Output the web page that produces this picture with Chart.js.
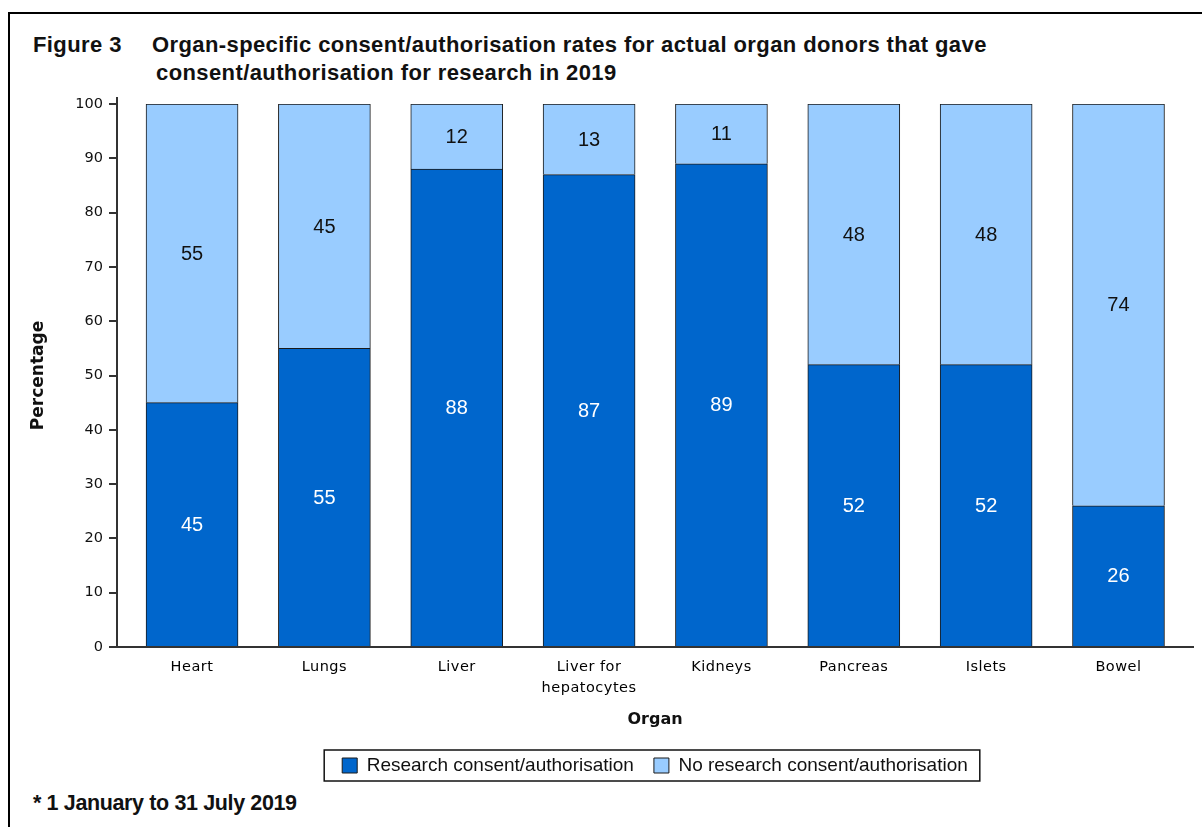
<!DOCTYPE html>
<html lang="en">
<head>
<meta charset="UTF-8">
<title>Figure 3</title>
<script src="https://cdn.jsdelivr.net/npm/chart.js@4.4.1/dist/chart.umd.min.js"></script>
<style>
   body { margin: 0; background: #fff; overflow: hidden; }
   .page { position: relative; width: 1202px; height: 827px; overflow: hidden; }
   .edgeTop { position: absolute; left: 8px; top: 12px; width: 1194px; height: 2px; background: #000; }
   .edgeLeft { position: absolute; left: 8px; top: 12px; width: 2px; height: 815px; background: #000; }
   .txt { position: absolute; font-family: "Liberation Sans", Arial, sans-serif; font-weight: bold; color: #111; white-space: nowrap; }
   .title { font-size: 22px; line-height: 24px; letter-spacing: 0.4px; }
   .note { font-size: 21.5px; line-height: 24px; letter-spacing: -0.37px; }
   canvas { position: absolute; left: 0; top: 0; }
</style>
</head>
<body>
<div class="page">
   <div class="edgeTop"></div>
   <div class="edgeLeft"></div>
   <div class="txt title" style="left:33px; top:33px;">Figure 3</div>
   <div class="txt title" style="left:152px; top:33px;">Organ-specific consent/authorisation rates for actual organ donors that gave</div>
   <div class="txt title" style="left:156px; top:61px;">consent/authorisation for research in 2019</div>
   <div class="txt note" style="left:33px; top:791px;">* 1 January to 31 July 2019</div>
   <canvas id="myChart" width="1202" height="827"></canvas>
</div>
<script>
   const organs = ['Heart', 'Lungs', 'Liver', ['Liver for', 'hepatocytes'], 'Kidneys', 'Pancreas', 'Islets', 'Bowel'];
   const research = [45, 55, 88, 87, 89, 52, 52, 26];
   const noResearch = [55, 45, 12, 13, 11, 48, 48, 74];
   const yTicks = [0, 10, 20, 30, 40, 50, 60, 70, 80, 90, 100];

   // numbers inside each bar segment, legend frame, letter spacing of organ names
   const segmentLabels = {
      id: 'segmentLabels',
      afterDatasetsDraw(chart) {
         const ctx = chart.ctx;
         ctx.save();
         ctx.font = '20px "Liberation Sans", Arial, sans-serif';
         ctx.textAlign = 'center';
         ctx.textBaseline = 'middle';
         chart.data.datasets.forEach((ds, di) => {
            ctx.fillStyle = di === 0 ? '#fff' : '#111';
            chart.getDatasetMeta(di).data.forEach((bar, i) => {
               ctx.fillText(ds.data[i].y, bar.x, (bar.y + bar.base) / 2 + 1);
            });
         });
         ctx.restore();
      },
      afterDraw(chart) {
         const ctx = chart.ctx;
         const area = chart.chartArea;
         ctx.save();
         // y axis sticks out a little above 100
         ctx.strokeStyle = '#333';
         ctx.lineWidth = 2;
         ctx.beginPath();
         ctx.moveTo(area.left, area.top - 7);
         ctx.lineTo(area.left, area.top);
         ctx.stroke();
         // box round the legend
         const boxes = chart.legend.legendHitBoxes;
         if (boxes.length) {
            const first = boxes[0], last = boxes[boxes.length - 1];
            const cy = first.top + first.height / 2;
            ctx.lineWidth = 1.5;
            ctx.strokeStyle = '#111';
            ctx.strokeRect(first.left - 18, cy - 15.5, last.left + last.width - first.left + 30, 31);
         }
         ctx.restore();
      },
      afterLayout(chart) {
         const sc = chart.scales.x;
         if (sc._spaced) return;
         const orig = sc.drawLabels;
         sc.drawLabels = function (area) {
            this.ctx.save();
            this.ctx.letterSpacing = '0.5px';
            orig.call(this, area);
            this.ctx.restore();
         };
         sc._spaced = true;
      }
   };

   const config = {
      type: 'bar',
      data: {
         datasets: [{
            label: 'Research consent/authorisation',
            data: research.map((v, i) => ({ x: i, y: v })),
            backgroundColor: '#0066CC',
            borderColor: '#1a1a1a',
            borderWidth: 1,
            barThickness: 92
         }, {
            label: 'No research consent/authorisation',
            data: noResearch.map((v, i) => ({ x: i, y: v })),
            backgroundColor: '#99CCFF',
            borderColor: '#1a1a1a',
            borderWidth: 1,
            barThickness: 92
         }]
      },
      options: {
         responsive: false,
         animation: false,
         layout: { padding: { left: 24, right: 9, top: 104, bottom: 42 } },
         plugins: {
            tooltip: { enabled: false },
            legend: {
               position: 'bottom',
               fullSize: false,
               labels: {
                  boxWidth: 15,
                  boxHeight: 15,
                  padding: 20,
                  color: '#111',
                  font: { family: '"Liberation Sans", Arial, sans-serif', size: 19 }
               }
            }
         },
         scales: {
            x: {
               type: 'linear',
               stacked: true,
               offset: false,
               min: -0.567,
               max: 7.563,
               afterBuildTicks: s => { s.ticks = organs.map((o, i) => ({ value: i })); },
               afterFit: s => { s.height = 89; },
               grid: { display: false, offset: false },
               border: { color: '#333', width: 2 },
               ticks: {
                  autoSkip: false,
                  maxRotation: 0,
                  padding: 2,
                  color: '#000',
                  font: { family: '"DejaVu Sans", Verdana, sans-serif', size: 14.5, lineHeight: 1.45 },
                  callback: v => organs[v]
               },
               title: {
                  display: true,
                  text: 'Organ',
                  color: '#111',
                  padding: { top: 4, bottom: 6.4 },
                  font: { family: '"DejaVu Sans", Verdana, sans-serif', size: 16, weight: 'bold' }
               }
            },
            y: {
               stacked: true,
               min: 0,
               max: 100,
               afterBuildTicks: s => { s.ticks = yTicks.map(v => ({ value: v })); },
               afterFit: s => { s.width = 93; },
               grid: { drawOnChartArea: false, tickLength: 8, color: '#333', lineWidth: 2 },
               border: { color: '#333', width: 2 },
               ticks: {
                  padding: 6,
                  color: '#111',
                  font: { family: '"DejaVu Sans", Verdana, sans-serif', size: 14.5 }
               },
               title: {
                  display: true,
                  text: 'Percentage',
                  color: '#111',
                  padding: { top: 4, bottom: 4 },
                  font: { family: '"DejaVu Sans", Verdana, sans-serif', size: 17, weight: 'bold' }
               }
            }
         }
      },
      plugins: [segmentLabels]
   };

   new Chart(document.getElementById('myChart'), config);
</script>
</body>
</html>
